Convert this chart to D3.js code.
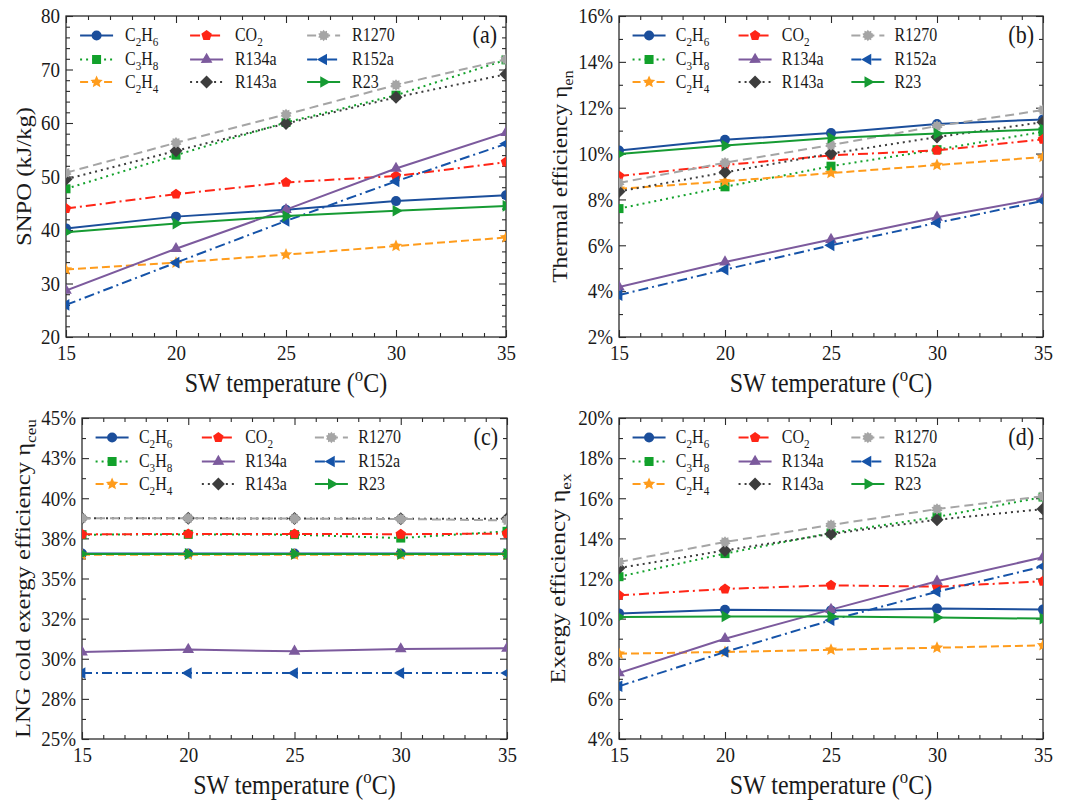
<!DOCTYPE html>
<html>
<head>
<meta charset="utf-8">
<script src="https://cdn.jsdelivr.net/npm/d3@7"></script>
<style>
  body { margin: 0; background: #fff; }
  text { font-family: "Liberation Serif", "Times New Roman", serif; fill: #1a1a1a; }
</style>
</head>
<body>
<svg id="fig" width="1074" height="803"></svg>
<script>
// ---- data -------------------------------------------------------------
const temps = [15, 20, 25, 30, 35];
const fluids = ["C2H6", "C3H8", "C2H4", "CO2", "R134a", "R143a", "R1270", "R152a", "R23"];
const fluidLabels = ["C_2H_6", "C_3H_8", "C_2H_4", "CO_2", "R134a", "R143a", "R1270", "R152a", "R23"];

// (a) specific net power output, kJ/kg (rows follow `fluids`)
const snpo = [
  [40.3, 42.5, 43.8, 45.4, 46.5],
  [47.7, 54.0, 60.1, 65.2, 71.8],
  [32.6, 33.9, 35.4, 37.0, 38.6],
  [44.0, 46.7, 48.9, 50.1, 52.7],
  [28.7, 36.5, 43.8, 51.5, 58.2],
  [49.5, 54.8, 59.9, 64.8, 69.1],
  [50.7, 56.3, 61.6, 67.1, 71.9],
  [26.0, 33.9, 41.7, 49.1, 56.1],
  [39.6, 41.2, 42.6, 43.6, 44.5]
];
// (b) thermal efficiency, %
const thermalEff = [
  [10.13, 10.60, 10.90, 11.29, 11.49],
  [7.60, 8.55, 9.45, 10.17, 10.95],
  [8.46, 8.79, 9.15, 9.50, 9.85],
  [9.02, 9.50, 9.92, 10.14, 10.62],
  [4.18, 5.27, 6.25, 7.22, 8.07],
  [8.35, 9.18, 10.00, 10.72, 11.37],
  [8.72, 9.60, 10.37, 11.20, 11.90],
  [3.83, 4.94, 6.00, 6.98, 7.94],
  [9.98, 10.35, 10.68, 10.87, 11.06]
];
// (c) LNG cold exergy utilisation efficiency, %
const coldExergyEff = [
  [36.55, 36.55, 36.55, 36.55, 36.55],
  [37.73, 37.75, 37.73, 37.52, 37.94],
  [36.48, 36.48, 36.48, 36.48, 36.48],
  [37.75, 37.78, 37.78, 37.76, 37.80],
  [30.42, 30.57, 30.46, 30.61, 30.65],
  [38.75, 38.75, 38.74, 38.73, 38.72],
  [38.75, 38.75, 38.73, 38.71, 38.62],
  [29.11, 29.11, 29.11, 29.11, 29.11],
  [36.53, 36.53, 36.53, 36.53, 36.53]
];
// (d) exergy efficiency, %
const exergyEff = [
  [10.26, 10.44, 10.41, 10.50, 10.45],
  [12.09, 13.24, 14.27, 15.07, 16.06],
  [8.25, 8.34, 8.45, 8.55, 8.67],
  [11.16, 11.48, 11.66, 11.59, 11.86],
  [7.29, 9.00, 10.45, 11.86, 13.06],
  [12.52, 13.40, 14.22, 14.93, 15.46],
  [12.82, 13.82, 14.67, 15.46, 16.10],
  [6.63, 8.34, 9.92, 11.34, 12.60],
  [10.08, 10.11, 10.11, 10.05, 10.00]
];

const xTicks = [15, 20, 25, 30, 35];
const yTicksA = [20, 30, 40, 50, 60, 70, 80];
const yTicksB = [2, 4, 6, 8, 10, 12, 14, 16];
const yTicksC = [25, 27.5, 30, 32.5, 35, 37.5, 40, 42.5, 45];
const yTickLabelsC = ["25%", "28%", "30%", "32%", "35%", "38%", "40%", "43%", "45%"];
const yTicksD = [4, 6, 8, 10, 12, 14, 16, 18, 20];

// ---- styles -----------------------------------------------------------
const colors = ["#1b4e9b", "#12a12b", "#ff9c1c", "#ff2516", "#7c5a9d", "#3d3d3d", "#a5a5a5", "#1553a8", "#169b33"];
const dashes = [null, "2,4", "8,4", "10,4,2,4", null, "2,4", "9,5", "10,4,2,4", null];
const markerTypes = ["circle", "square", "star", "pentagon", "triUp", "diamond", "gear", "triLeft", "triRight"];

const K = 1.12;           // glyph vertical stretch used for all labels
const svg = d3.select("#fig");
svg.append("rect").attr("width", 1074).attr("height", 803).attr("fill", "#fff");

// ---- helpers ----------------------------------------------------------
function polygon(n, rOuter, rInner, rot) {
  const pts = [];
  const m = rInner == null ? n : n * 2;
  for (let i = 0; i < m; i++) {
    const r = (rInner == null || i % 2 === 0) ? rOuter : rInner;
    const a = rot + i * 2 * Math.PI / m;
    pts.push([r * Math.sin(a), -r * Math.cos(a)]);
  }
  return "M" + pts.map(p => p[0].toFixed(2) + "," + p[1].toFixed(2)).join("L") + "Z";
}
function markerPath(type, r) {
  switch (type) {
    case "circle": return d3.symbol(d3.symbolCircle, Math.PI * r * r)();
    case "square": return d3.symbol(d3.symbolSquare, (1.8 * r) ** 2)();
    case "star": return polygon(5, r * 1.3, r * 0.6, 0);
    case "pentagon": return polygon(5, r * 1.1, null, 0);
    case "triUp": return polygon(3, r * 1.35, null, 0);
    case "diamond": return polygon(4, r * 1.3, null, 0);
    case "gear": return polygon(10, r * 1.15, r * 0.85, 0);
    case "triLeft": return polygon(3, r * 1.35, null, -Math.PI / 2);
    case "triRight": return polygon(3, r * 1.35, null, Math.PI / 2);
  }
}
function parseRich(s) {
  const out = []; let buf = ""; let i = 0;
  while (i < s.length) {
    const c = s[i];
    if (c === "_" || c === "^") {
      if (buf) { out.push({ t: buf, k: "" }); buf = ""; }
      let tok;
      if (s[i + 1] === "{") { const j = s.indexOf("}", i); tok = s.slice(i + 2, j); i = j + 1; }
      else { tok = s[i + 1]; i += 2; }
      out.push({ t: tok, k: c === "_" ? "sub" : "sup" });
    } else { buf += c; i++; }
  }
  if (buf) out.push({ t: buf, k: "" });
  return out;
}
function richText(parent, x, y, s, size, anchor, rotate) {
  const t = parent.append("text")
    .attr("transform", `translate(${x},${y}) scale(1,${K})` + (rotate ? ` rotate(${rotate})` : ""))
    .attr("font-size", size)
    .attr("text-anchor", anchor || "start");
  let shift = 0;
  parseRich(s).forEach(p => {
    const target = p.k === "sub" ? size * 0.28 : p.k === "sup" ? -size * 0.4 : 0;
    const ts = t.append("tspan").text(p.t).attr("dy", target - shift);
    if (p.k) ts.attr("font-size", size * 0.7);
    shift = target;
  });
  return t;
}

// ---- panels -----------------------------------------------------------
const panels = [
  { id: "a", data: snpo, box: [66, 16, 440, 321], y: [20, 80], yt: yTicksA, ym: 2, fmt: d => d,
    title: "SNPO (kJ/kg)", titleX: 23, titleSize: 22 },
  { id: "b", data: thermalEff, box: [619, 16, 424, 321], y: [2, 16], yt: yTicksB, ym: 1, fmt: d => d + "%",
    title: "Thermal efficiency \u03b7_{en}", titleX: 559, titleSize: 21 },
  { id: "c", data: coldExergyEff, box: [82, 418, 425, 321], y: [25, 45], yt: yTicksC, ym: 1.25,
    fmt: d => yTickLabelsC[yTicksC.indexOf(d)],
    title: "LNG cold exergy efficiency \u03b7_{ceu}", titleX: 22, titleSize: 22 },
  { id: "d", data: exergyEff, box: [619, 418, 424, 321], y: [4, 20], yt: yTicksD, ym: 1, fmt: d => d + "%",
    title: "Exergy efficiency \u03b7_{ex}", titleX: 557, titleSize: 22 }
];

panels.forEach(P => {
  const [L, T, W, H] = P.box;
  const g = svg.append("g").attr("transform", `translate(${L},${T})`);
  const x = d3.scaleLinear().domain([15, 35]).range([0, W]);
  const y = d3.scaleLinear().domain(P.y).range([H, 0]);
  const xMinor = d3.range(15, 35.001, 1).filter(v => !xTicks.includes(v));
  const yMinor = d3.range(P.y[0], P.y[1] + 1e-6, P.ym).filter(v => !P.yt.some(t => Math.abs(t - v) < 1e-6));

  const axisStyle = sel => {
    sel.select(".domain").remove();
    sel.selectAll("line").attr("stroke", "#2b2b2b").attr("stroke-width", 1.1);
  };
  // minor ticks on all four sides
  g.append("g").attr("transform", `translate(0,${H})`)
    .call(d3.axisBottom(x).tickValues(xMinor).tickSize(-4).tickFormat("")).call(axisStyle);
  g.append("g").call(d3.axisTop(x).tickValues(xMinor).tickSize(-4).tickFormat("")).call(axisStyle);
  g.append("g").call(d3.axisLeft(y).tickValues(yMinor).tickSize(-4).tickFormat("")).call(axisStyle);
  g.append("g").attr("transform", `translate(${W},0)`)
    .call(d3.axisRight(y).tickValues(yMinor).tickSize(-4).tickFormat("")).call(axisStyle);
  // major ticks
  g.append("g").call(d3.axisTop(x).tickValues(xTicks).tickSize(-7).tickFormat("")).call(axisStyle);
  g.append("g").attr("transform", `translate(${W},0)`)
    .call(d3.axisRight(y).tickValues(P.yt).tickSize(-7).tickFormat("")).call(axisStyle);
  const xb = g.append("g").attr("transform", `translate(0,${H})`)
    .call(d3.axisBottom(x).tickValues(xTicks).tickSize(-7).tickSizeOuter(0).tickPadding(7).tickFormat(d => d))
    .call(axisStyle);
  xb.selectAll("text").attr("font-size", 19).attr("font-family", null).attr("fill", "#1a1a1a")
    .attr("transform", `scale(1,${K})`);
  const yl = g.append("g")
    .call(d3.axisLeft(y).tickValues(P.yt).tickSize(-7).tickSizeOuter(0).tickPadding(6).tickFormat(P.fmt))
    .call(axisStyle);
  yl.selectAll("text").attr("font-size", 19).attr("font-family", null).attr("fill", "#1a1a1a")
    .attr("transform", `scale(1,${K})`);

  // frame
  g.append("rect").attr("width", W).attr("height", H)
    .attr("fill", "none").attr("stroke", "#2b2b2b").attr("stroke-width", 1.3);

  // series
  const clipId = "clip-" + P.id;
  g.append("clipPath").attr("id", clipId).append("rect").attr("width", W).attr("height", H);
  const plot = g.append("g").attr("clip-path", `url(#${clipId})`);
  const line = d3.line().x((d, i) => x(temps[i])).y(d => y(d));
  P.data.forEach((vals, k) => {
    const s = plot.append("g");
    s.append("path").attr("d", line(vals)).attr("fill", "none")
      .attr("stroke", colors[k]).attr("stroke-width", 2)
      .attr("stroke-dasharray", dashes[k]);
    s.selectAll("path.m").data(vals).join("path").attr("class", "m")
      .attr("d", markerPath(markerTypes[k], 5))
      .attr("transform", (d, i) => `translate(${x(temps[i])},${y(d)})`)
      .attr("fill", colors[k]);
  });

  // legend: 3 columns x 3 rows
  const colLine = [0.032, 0.282, 0.548], colText = [0.134, 0.384, 0.65];
  const rowY = [19.5, 43.5, 66];
  fluids.forEach((f, k) => {
    const c = Math.floor(k / 3), r = k % 3;
    const x0 = colLine[c] * W, x1 = x0 + 33, yy = rowY[r];
    g.append("line").attr("x1", x0).attr("x2", x1).attr("y1", yy).attr("y2", yy)
      .attr("stroke", colors[k]).attr("stroke-width", 2).attr("stroke-dasharray", dashes[k]);
    g.append("path").attr("d", markerPath(markerTypes[k], 5))
      .attr("transform", `translate(${(x0 + x1) / 2},${yy})`).attr("fill", colors[k]);
    richText(g, colText[c] * W, yy + 5.5, fluidLabels[k], 16, "start");
  });

  // panel tag
  richText(g, W - 9, 27, `(${P.id})`, 22, "end");

  // axis titles
  richText(g, W / 2, H + 55, "SW temperature (^oC)", 24, "middle");
  richText(svg, P.titleX + 8, T + H / 2, P.title, P.titleSize, "middle", -90);
});
</script>
</body>
</html>
